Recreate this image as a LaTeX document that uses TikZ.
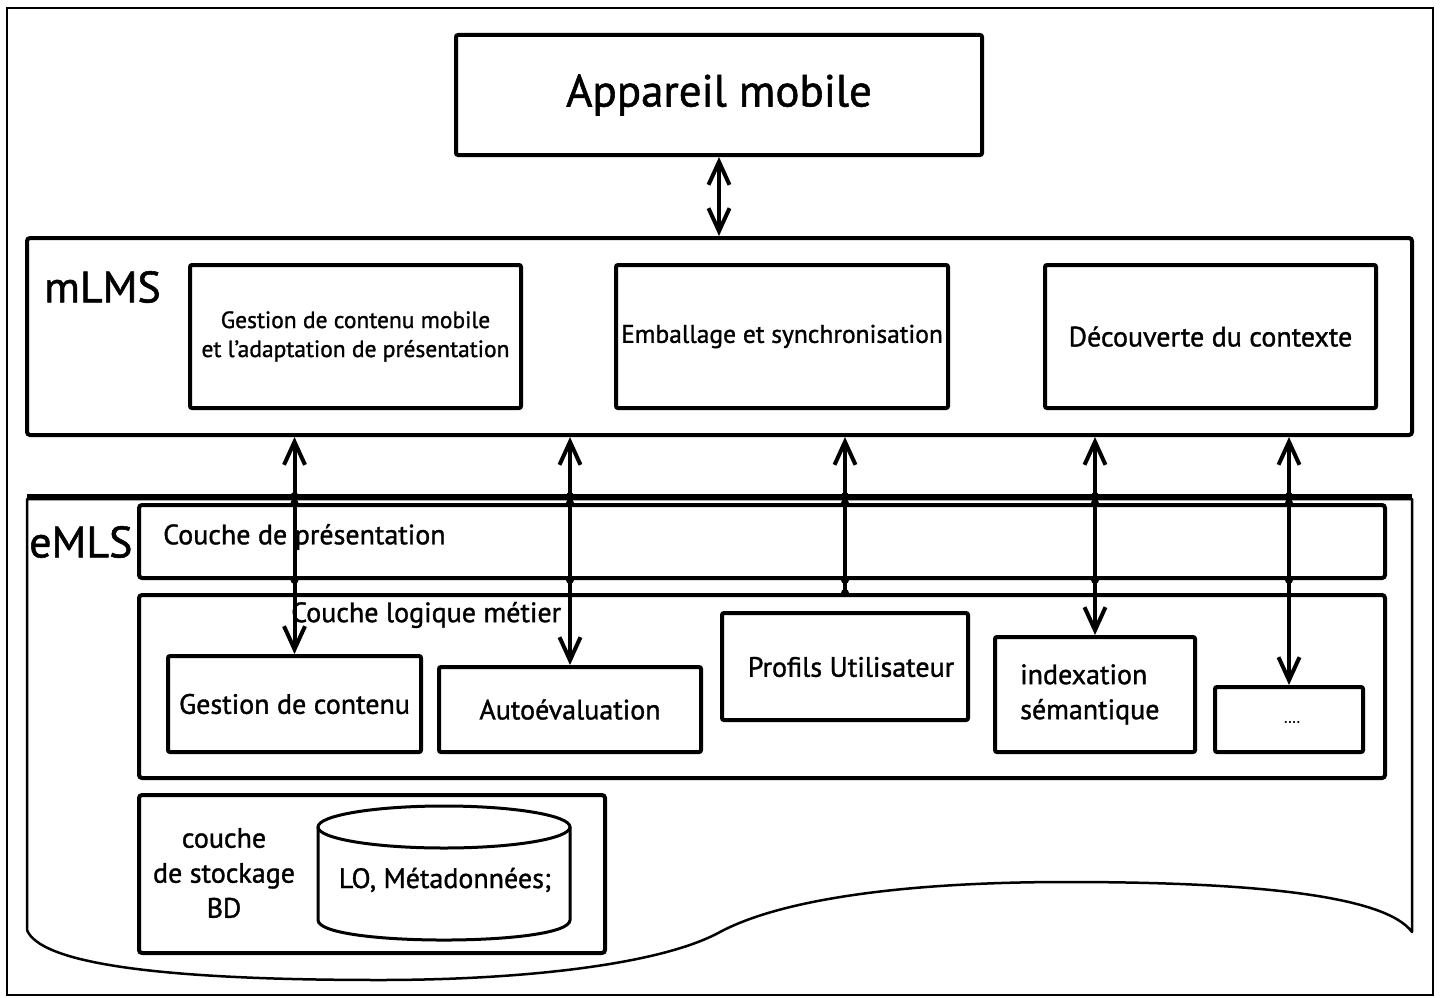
\documentclass[tikz,border=0pt]{standalone}
\usepackage{fontspec}
\setmainfont{PT Sans}[BoldFont=PT Sans, BoldFeatures={FakeBold=1.2}]
\usetikzlibrary{arrows.meta}
\newcommand{\txtsize}[2]{\fontsize{#1}{#2}\selectfont\bfseries}
\begin{document}
\begin{tikzpicture}[x=1pt,y=-1pt,
  >={Straight Barb[length=23pt,width=21pt]},
  box/.style={draw, line width=4pt, rounded corners=2pt, inner sep=0pt, align=center,
    font=\txtsize{28}{35}},
  layer/.style={draw, line width=4pt, rounded corners=3pt, inner sep=0pt},
  lbl/.style={inner sep=0pt, font=\txtsize{28}{35}},
  biglbl/.style={inner sep=0pt, font=\txtsize{44}{50}},
  conn/.style={line width=4pt},
  jdot/.style={fill=black}
]
\useasboundingbox (0,0) rectangle (1440,998);
\draw[line width=1.8pt] (7,8) rectangle (1433,995);

% mobile device
\node[box, minimum width=526pt, minimum height=120pt, font=\txtsize{45}{50}] (app) at (719,95) {Appareil mobile};

% mLMS layer
\node[layer, minimum width=1385pt, minimum height=197pt] (mlms) at (719.5,336.5) {};
\node[biglbl, anchor=west] (mlmslbl) at (44,287) {mLMS};
\node[box, minimum width=331pt, minimum height=143pt, font=\txtsize{23.5}{29}] (gm) at (355.5,336.5) {Gestion de contenu mobile\\et l'adaptation de présentation};
\node[box, minimum width=332pt, minimum height=143pt, font=\txtsize{25.5}{30}] (emb) at (782,336.5) {Emballage et synchronisation};
\node[box, minimum width=331pt, minimum height=143pt] (dec) at (1210.5,336.5) {Découverte du contexte};

% eMLS outline
\draw[line width=2.5pt, line join=round]
  (27,930) -- (27,499) -- (1412,499) -- (1412,932)
  .. controls (1385,895) and (1250,882) .. (1067,882)
  .. controls (900,882) and (780,900) .. (720,932)
  .. controls (660,965) and (520,980) .. (380,980)
  .. controls (150,980) and (40,962) .. (27,930);
\node[biglbl, anchor=west] (emlslbl) at (29,542) {eMLS};
\coordinate (busL) at (27,496);
\coordinate (busR) at (1412,496);
\draw[line width=4pt] (busL) -- (busR);

% presentation layer
\node[layer, minimum width=1246pt, minimum height=73pt] (pres) at (762,541.5) {};
\node[lbl, anchor=west] (preslbl) at (163,537) {Couche de présentation};

% business logic layer
\node[layer, minimum width=1246pt, minimum height=183pt] (logic) at (762,686.5) {};
\node[lbl, anchor=west] (logiclbl) at (291,615) {Couche logique métier};
\node[box, minimum width=253pt, minimum height=96pt] (gc) at (294.5,704) {Gestion de contenu};
\node[box, minimum width=262pt, minimum height=85pt] (auto) at (570,709.5) {Autoévaluation};
\node[box, minimum width=246pt, minimum height=107pt] (prof) at (845,666.5) {};
\node[lbl] (proflbl) at (851,667) {Profils Utilisateur};
\node[box, minimum width=200pt, minimum height=115pt] (idx) at (1095,694.5) {};
\node[lbl, align=left, anchor=west] (idxlbl) at (1020,694.5) {indexation\\sémantique};
\node[box, minimum width=148pt, minimum height=65pt] (etc) at (1289,719.5) {};
\node[inner sep=0pt, font=\txtsize{15}{17}] (etclbl) at (1292,722) {....};

% storage layer
\node[layer, minimum width=466pt, minimum height=158pt] (stock) at (372,874) {};
\node[lbl, align=center] (stocklbl) at (224,873) {couche\\de stockage\\BD};
\draw[line width=3pt] (444,827) ellipse [x radius=126, y radius=21];
\draw[line width=3pt] (318,827) -- (318,920)
  .. controls (318,946.7) and (570,946.7) .. (570,920) -- (570,827);
\node[lbl] (db) at (445,880) {LO, Métadonnées;};

% connectors
\draw[conn, <->] (app.south) -- (app.south |- mlms.north);
\draw[conn, <->] (gc.north |- mlms.south) -- (gc.north);
\draw[conn, <->] (auto.north |- mlms.south) -- (auto.north);
\draw[conn, <-] (prof.north |- mlms.south) -- (prof.north |- logic.north);
\draw[conn, <->] (idx.north |- mlms.south) -- (idx.north);
\draw[conn, <->] (etc.north |- mlms.south) -- (etc.north);

% junctions on the bus and layer borders
\foreach \n in {gc,auto,prof,idx,etc}{
  \fill[jdot] (\n.north |- busL) circle (4);
  \fill[jdot] (\n.north |- pres.north) circle (4);
  \fill[jdot] (\n.north |- pres.south) circle (4);
}
\fill[jdot] (prof.north |- logic.north) circle (4);
\end{tikzpicture}
\end{document}
